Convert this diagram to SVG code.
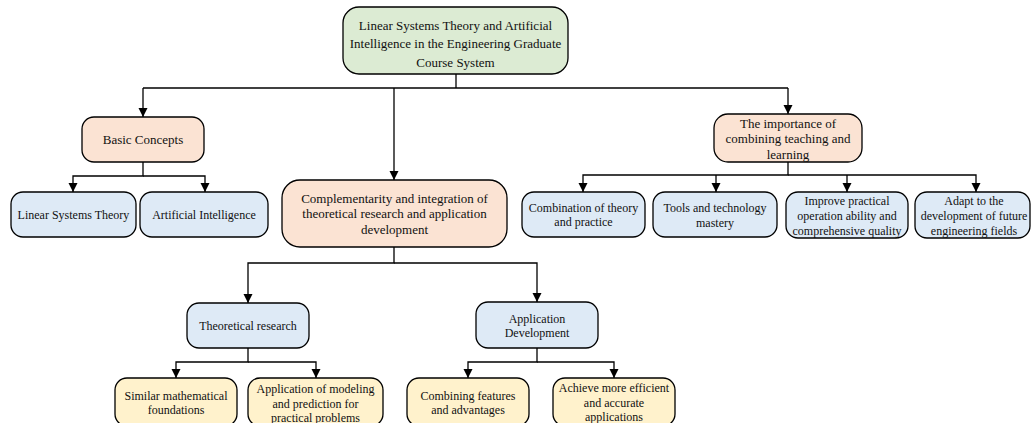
<svg xmlns="http://www.w3.org/2000/svg" width="1031" height="423" viewBox="0 0 1031 423">
<defs>
<marker id="arr" markerUnits="userSpaceOnUse" markerWidth="10" markerHeight="10" refX="9" refY="4.5" orient="auto">
<path d="M0,0 L9,4.5 L0,9 z" fill="#000"/>
</marker>
<style>
rect{stroke:#000;stroke-width:1.3}
.g{fill:#dcebd3}
.o{fill:#fbe3d3}
.b{fill:#deeaf6}
.y{fill:#fff2cc}
text{font-family:"Liberation Serif","Times New Roman",serif;font-size:13px;fill:#111;text-anchor:middle}
.s text{font-size:12px}
.e path{fill:none;stroke:#000;stroke-width:1.3}
.e path.a{marker-end:url(#arr)}
</style>
</defs>
<rect width="1031" height="423" fill="#fff" style="stroke:none"/>
<g class="e" id="connectors">
<path d="M456,74 V88"/>
<path d="M143,88 H788"/>
<path class="a" d="M143,88 V117"/>
<path class="a" d="M394,88 V180"/>
<path class="a" d="M788,88 V114"/>
<path class="a" d="M143,162 V176 H73 V192"/>
<path class="a" d="M143,176 H205 V192"/>
<path class="a" d="M394,247 V263 H248 V303"/>
<path class="a" d="M394,263 H537 V302"/>
<path class="a" d="M248,348 V362 H176 V378"/>
<path class="a" d="M248,362 H316 V378"/>
<path class="a" d="M537,348 V362 H468 V378"/>
<path class="a" d="M537,362 H614 V378"/>
<path class="a" d="M788,162 V175 H583 V192"/>
<path class="a" d="M788,175 H976 V192"/>
<path class="a" d="M716,175 V192"/>
<path class="a" d="M847,175 V192"/>
</g>
<g id="root">
<rect class="g" x="343" y="7" width="225" height="67" rx="16"/>
<text x="455.5" y="30">Linear Systems Theory and Artificial</text>
<text x="455.5" y="48">Intelligence in the Engineering Graduate</text>
<text x="455.5" y="67">Course System</text>
</g>
<g id="basic">
<rect class="o" x="82" y="117" width="122" height="45" rx="12"/>
<text x="143" y="144">Basic Concepts</text>
</g>
<g id="lst" class="s">
<rect class="b" x="11" y="192" width="125" height="45" rx="12"/>
<text x="73.5" y="219">Linear Systems Theory</text>
</g>
<g id="ai" class="s">
<rect class="b" x="140" y="192" width="128" height="45" rx="12"/>
<text x="204" y="219">Artificial Intelligence</text>
</g>
<g id="comp">
<rect class="o" x="282" y="180" width="225" height="67" rx="18"/>
<text x="394.5" y="202.5">Complementarity and integration of</text>
<text x="394.5" y="218">theoretical research and application</text>
<text x="394.5" y="233.5">development</text>
</g>
<g id="importance">
<rect class="o" x="714" y="114" width="148" height="48" rx="14"/>
<text x="788" y="127.5">The importance of</text>
<text x="788" y="143">combining teaching and</text>
<text x="788" y="158.5">learning</text>
</g>
<g id="combo" class="s">
<rect class="b" x="522" y="192" width="123" height="45" rx="12"/>
<text x="583.5" y="211.5">Combination of theory</text>
<text x="583.5" y="226">and practice</text>
</g>
<g id="tools" class="s">
<rect class="b" x="653" y="192" width="124" height="45" rx="12"/>
<text x="715" y="212">Tools and technology</text>
<text x="715" y="227">mastery</text>
</g>
<g id="improve" class="s">
<rect class="b" x="786" y="192" width="122" height="46" rx="12"/>
<text x="847" y="204.5">Improve practical</text>
<text x="847" y="219.5">operation ability and</text>
<text x="847" y="234.5">comprehensive quality</text>
</g>
<g id="adapt" class="s">
<rect class="b" x="915" y="192" width="115" height="46" rx="12"/>
<text x="974" y="204.5">Adapt to the</text>
<text x="974" y="219.5">development of future</text>
<text x="974" y="234.5">engineering fields</text>
</g>
<g id="theory" class="s">
<rect class="b" x="187" y="303" width="122" height="45" rx="12"/>
<text x="248" y="330">Theoretical research</text>
</g>
<g id="appdev" class="s">
<rect class="b" x="476" y="302" width="122" height="46" rx="12"/>
<text x="537" y="322.5">Application</text>
<text x="537" y="336.5">Development</text>
</g>
<g id="similar" class="s">
<rect class="y" x="115" y="378" width="122" height="48" rx="12"/>
<text x="176" y="399.5">Similar mathematical</text>
<text x="176" y="413.5">foundations</text>
</g>
<g id="modeling" class="s">
<rect class="y" x="248" y="378" width="135" height="48" rx="12"/>
<text x="315.5" y="392.5">Application of modeling</text>
<text x="315.5" y="407.5">and prediction for</text>
<text x="315.5" y="421.5">practical problems</text>
</g>
<g id="combining" class="s">
<rect class="y" x="407" y="378" width="122" height="48" rx="12"/>
<text x="468" y="399.5">Combining features</text>
<text x="468" y="413.5">and advantages</text>
</g>
<g id="achieve" class="s">
<rect class="y" x="553" y="378" width="122" height="48" rx="12"/>
<text x="614" y="391.5">Achieve more efficient</text>
<text x="614" y="406.5">and accurate</text>
<text x="614" y="420.5">applications</text>
</g>
</svg>
